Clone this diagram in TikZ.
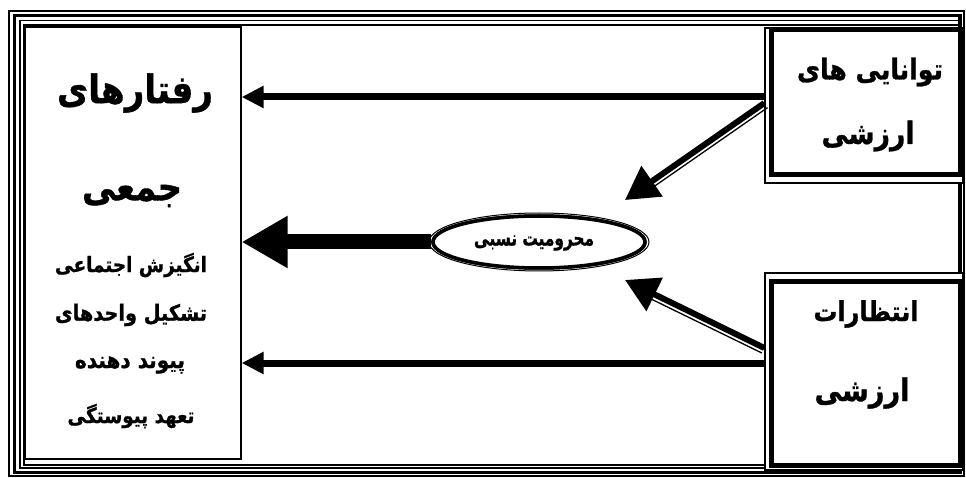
\documentclass[tikz,border=0pt]{standalone}
\usepackage{fontspec}
\usepackage{graphicx}
\usetikzlibrary{arrows.meta,shapes.geometric,calc}
\TeXXeTstate=1
\newfontfamily\fa[Script=Arabic, BoldFeatures={FakeBold=1}]{DejaVu Sans}
\newcommand\fw[2]{\scalebox{1}[1.15]{\resizebox{#1pt}{!}{\fa\bfseries #2}}}
\tikzset{
  thinframe/.style={draw, line width=1.4pt},
  thickframe/.style={draw, line width=3.5pt},
  leftbox/.style={draw, line width=1.3pt, fill=white, inner sep=0pt},
  outerbox/.style={draw, line width=1.3pt, fill=white, inner sep=0pt},
  thickbox/.style={draw, line width=5pt},
  harr/.style={line width=7pt, -{Triangle[length=22pt,width=21pt]}},
  marr/.style={line width=15pt, -{Triangle[length=46pt,width=49pt]}},
  darr/.style={line width=6pt, -{Triangle[length=33pt,width=36pt]}},
  shadowline/.style={line width=1.3pt},
  oval/.style={ellipse, draw, line width=3.5pt, fill=white, inner sep=0pt},
  label/.style={inner sep=0pt}
}
\begin{document}
\begin{tikzpicture}[x=1pt,y=-1pt]
\useasboundingbox (0,0) rectangle (966,478);
% outer frame
\draw[thinframe] (9,11) rectangle (964,476);
\draw[thickframe] (14.5,15.5) rectangle (960,472.5);
\draw[line width=1.1pt] (20,20.5) rectangle (960,468);
\draw[line width=1.3pt] (24,25) rectangle (960,465);
% left box
\node[leftbox, minimum width=216pt, minimum height=432pt] (L) at (133,243) {};
% right boxes
\node[outerbox, minimum width=198pt, minimum height=155pt] (A) at (864,105.5) {};
\draw[thickbox] (771,30) rectangle (960,175);
\node[outerbox, minimum width=198pt, minimum height=197pt] (B) at (864,371.5) {};
\draw[thickbox] (771,282) rectangle (960,465);
% helper coordinates
\coordinate (y1) at (0,97);
\coordinate (y3) at (0,363);
\coordinate (y4) at (0,103);
\coordinate (y5) at (0,348);
\coordinate (t1) at (625,200);
\coordinate (t2) at (625,280);
% ellipse node
\node[oval, minimum width=212pt, minimum height=52pt] (E) at (539,242) {};
% arrows
\draw[harr] (A.west |- y1) -- (L.east |- y1);
\draw[harr] (B.west |- y3) -- (L.east |- y3);
\draw[marr] (E.west) -- (L.east |- E.west);
\draw[darr] (A.west |- y4) -- (t1);
\draw[shadowline] ($(A.west |- y4)+(3.2,4.6)$) -- ($(t1)+(27,-18.9)+(3.2,4.6)$);
\draw[darr] (B.west |- y5) -- (t2);
\draw[shadowline] ($(B.west |- y5)+(-2.5,5)$) -- ($(t2)+(29.6,14.5)+(-2.5,5)$);
% ellipse redrawn on top with outer thin ring
\node[oval, minimum width=212pt, minimum height=52pt] (E2) at (E) {};
\draw[line width=1pt] (E) ellipse [x radius=110pt, y radius=29pt];
% texts
\node[label] (t-a) at (135,93) {\fw{156}{\beginR رفتارهای\endR}};
\node[label] (t-b) at (132,196) {\fw{100}{\beginR جمعی\endR}};
\node[label] (t-c) at (131,265) {\fw{152}{\beginR انگیزش اجتماعی\endR}};
\node[label] (t-d) at (131,315) {\fw{152}{\beginR تشکیل واحدهای\endR}};
\node[label] (t-e) at (130,365) {\fw{110}{\beginR پیوند دهنده\endR}};
\node[label] (t-f) at (131,416) {\fw{127}{\beginR تعهد پیوستگی\endR}};
\node[label] (t-g) at (870,72) {\fw{146}{\beginR توانایی های\endR}};
\node[label] (t-h) at (868,136) {\fw{93}{\beginR ارزشی\endR}};
\node[label] (t-i) at (866,314) {\fw{105}{\beginR انتظارات\endR}};
\node[label] (t-j) at (862,393) {\fw{95}{\beginR ارزشی\endR}};
\node[label] (t-k) at (534,243) {\scalebox{1}[1.2]{\fw{120}{\beginR محرومیت نسبی\endR}}};
\end{tikzpicture}
\end{document}
